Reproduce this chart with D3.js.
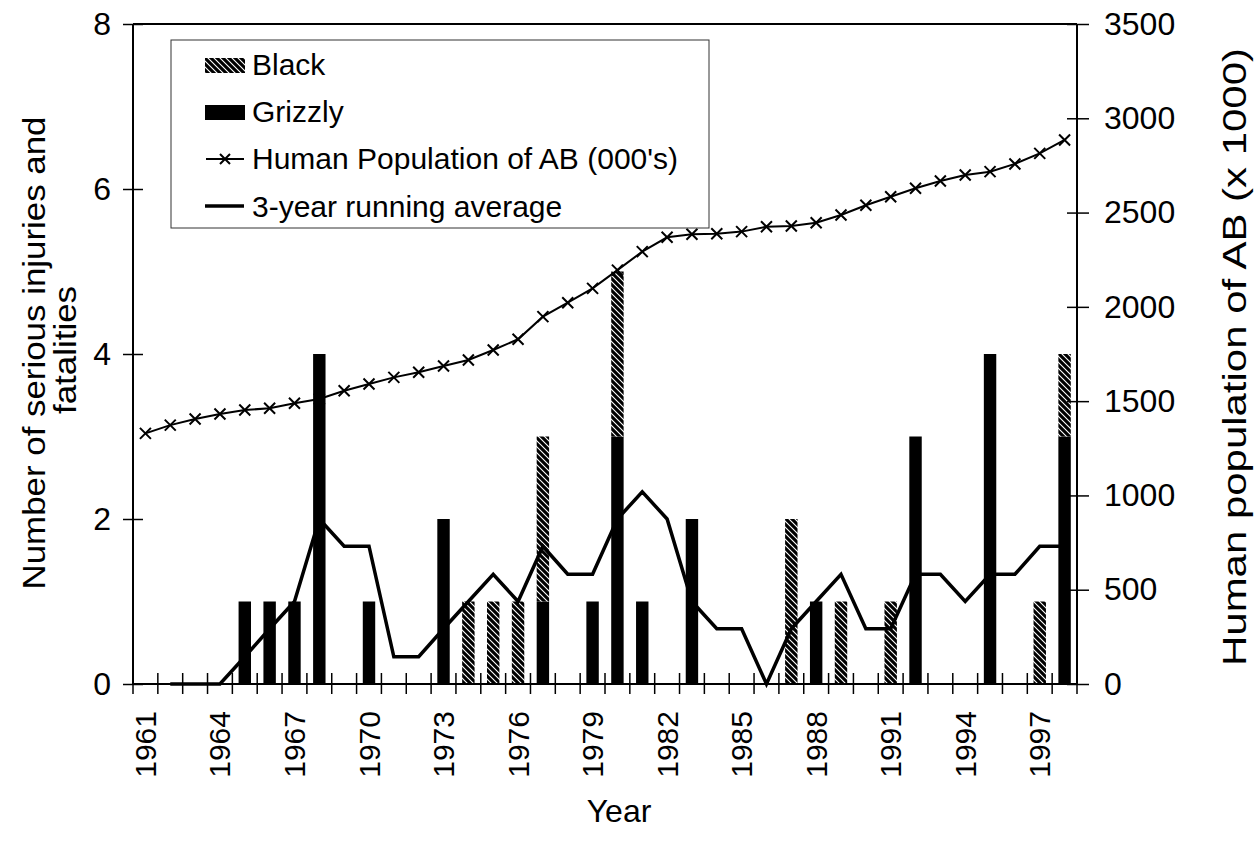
<!DOCTYPE html>
<html>
<head>
<meta charset="utf-8">
<script src="https://cdn.jsdelivr.net/npm/d3@7"></script>
<style>
  body { margin: 0; background: #fff; }
  svg { display: block; }
  text { font-family: "Liberation Sans", Arial, Helvetica, sans-serif; fill: #000; }
</style>
</head>
<body>
<script>
// years on the category axis
var years = [1961, 1962, 1963, 1964, 1965, 1966, 1967, 1968, 1969, 1970,
             1971, 1972, 1973, 1974, 1975, 1976, 1977, 1978, 1979, 1980,
             1981, 1982, 1983, 1984, 1985, 1986, 1987, 1988, 1989, 1990,
             1991, 1992, 1993, 1994, 1995, 1996, 1997, 1998];
var yearLabels = [1961, 1964, 1967, 1970, 1973, 1976, 1979, 1982, 1985, 1988, 1991, 1994, 1997];

// serious injuries and fatalities per year
var grizzly = [0, 0, 0, 0, 1, 1, 1, 4, 0, 1, 0, 0, 2, 0, 0, 0, 1, 0, 1, 3,
               1, 0, 2, 0, 0, 0, 0, 1, 0, 0, 0, 3, 0, 0, 4, 0, 0, 3];
var black   = [0, 0, 0, 0, 0, 0, 0, 0, 0, 0, 0, 0, 0, 1, 1, 1, 2, 0, 0, 2,
               0, 0, 0, 0, 0, 0, 2, 0, 1, 0, 1, 0, 0, 0, 0, 0, 1, 1];

// human population of Alberta (000's)
var population = [1329, 1373, 1405, 1432, 1453, 1462, 1489, 1511, 1555, 1591,
                  1626, 1653, 1686, 1718, 1771, 1828, 1948, 2022, 2098, 2195,
                  2293, 2369, 2385, 2388, 2399, 2425, 2429, 2446, 2487, 2539,
                  2584, 2629, 2667, 2699, 2717, 2758, 2814, 2885];

// 3-year running average (no value for 1961)
var runningAvg = [null, 0, 0, 0, 0.33, 0.67, 1, 2, 1.67, 1.67,
                  0.33, 0.33, 0.67, 1, 1.33, 1, 1.67, 1.33, 1.33, 2,
                  2.33, 2, 1, 0.67, 0.67, 0, 0.67, 1, 1.33, 0.67,
                  0.67, 1.33, 1.33, 1, 1.33, 1.33, 1.67, 1.67];

var leftTicks = [0, 2, 4, 6, 8];
var rightTicks = [0, 500, 1000, 1500, 2000, 2500, 3000, 3500];

var width = 1260, height = 853;
var plotL = 133, plotR = 1077, plotT = 24, plotB = 684;

var svg = d3.select("body").append("svg")
            .attr("width", width)
            .attr("height", height);

var defs = svg.append("defs");
var pat = defs.append("pattern")
              .attr("id", "hatch")
              .attr("patternUnits", "userSpaceOnUse")
              .attr("width", 6)
              .attr("height", 6);
pat.append("rect").attr("width", 6).attr("height", 6).attr("fill", "#000");
pat.append("path")
   .attr("d", "M0,0 L6,6 M-1,5 L1,7 M5,-1 L7,1")
   .attr("stroke", "#fff")
   .attr("stroke-width", 1.1);

var x = d3.scaleBand().domain(years).range([plotL, plotR]).padding(0);
var yL = d3.scaleLinear().domain([0, 8]).range([plotB, plotT]);
var yR = d3.scaleLinear().domain([0, 3500]).range([plotB, plotT]);
var cx = function(yr) { return x(yr) + x.bandwidth() / 2; };
var barW = x.bandwidth() * 0.5;

// stacked bars: grizzly at the bottom, black on top
var rows = years.map(function(yr, i) {
  return { year: yr, grizzly: grizzly[i], black: black[i] };
});
var stacked = d3.stack().keys(["grizzly", "black"])(rows);
var fills = { grizzly: "#000", black: "url(#hatch)" };

stacked.forEach(function(layer) {
  svg.append("g")
     .selectAll("rect")
     .data(layer.filter(function(d) { return d[1] > d[0]; }))
     .join("rect")
     .attr("x", function(d) { return cx(d.data.year) - barW / 2; })
     .attr("width", barW)
     .attr("y", function(d) { return yL(d[1]); })
     .attr("height", function(d) { return yL(d[0]) - yL(d[1]); })
     .attr("fill", fills[layer.key]);
});

// population line
var popLine = d3.line()
                .x(function(d, i) { return cx(years[i]); })
                .y(function(d) { return yR(d); });
svg.append("path")
   .datum(population)
   .attr("d", popLine)
   .attr("fill", "none")
   .attr("stroke", "#000")
   .attr("stroke-width", 2);

var cross = function(g, px, py, r) {
  g.append("path")
   .attr("d", "M" + (px - r) + "," + (py - r) + "L" + (px + r) + "," + (py + r) +
              "M" + (px - r) + "," + (py + r) + "L" + (px + r) + "," + (py - r))
   .attr("stroke", "#000")
   .attr("stroke-width", 2)
   .attr("fill", "none");
};
var marks = svg.append("g");
population.forEach(function(v, i) { cross(marks, cx(years[i]), yR(v), 5.5); });

// running average line
var avgLine = d3.line()
                .defined(function(d) { return d !== null; })
                .x(function(d, i) { return cx(years[i]); })
                .y(function(d) { return yL(d); });
svg.append("path")
   .datum(runningAvg)
   .attr("d", avgLine)
   .attr("fill", "none")
   .attr("stroke", "#000")
   .attr("stroke-width", 3.5)
   .attr("stroke-linejoin", "miter");

// frame: top border
svg.append("line")
   .attr("x1", plotL).attr("x2", plotR)
   .attr("y1", plotT).attr("y2", plotT)
   .attr("stroke", "#000").attr("stroke-width", 2);

// left axis
var gL = svg.append("g")
            .attr("transform", "translate(" + plotL + ",0)")
            .call(d3.axisLeft(yL).tickValues(leftTicks).tickSize(10).tickPadding(12));
gL.selectAll(".tick line").attr("x1", 10).attr("x2", -10);
gL.selectAll(".tick text").style("font-size", "32px");

// right axis
var gR = svg.append("g")
            .attr("transform", "translate(" + plotR + ",0)")
            .call(d3.axisRight(yR).tickValues(rightTicks).tickFormat(d3.format("d"))
                    .tickSize(10).tickPadding(17));
gR.selectAll(".tick line").attr("x1", -10).attr("x2", 12);
gR.selectAll(".tick text").style("font-size", "32px");

[gL, gR].forEach(function(g) {
  g.select(".domain").attr("stroke-width", 2).attr("d", "M0," + plotT + "V" + plotB);
  g.selectAll(".tick line").attr("stroke-width", 1.5);
});

// bottom axis: labels every third year at category centres
var gB = svg.append("g")
            .attr("transform", "translate(0," + plotB + ")")
            .call(d3.axisBottom(x).tickValues(yearLabels).tickSize(0));
gB.select(".domain").attr("stroke-width", 2).attr("d", "M" + plotL + ",0H" + plotR);
gB.selectAll(".tick text")
  .style("font-size", "30px")
  .attr("text-anchor", "end")
  .attr("transform", "rotate(-90)")
  .attr("x", -27)
  .attr("y", 0)
  .attr("dy", "0.35em");

// crossing ticks at category boundaries
var bounds = years.map(function(yr) { return x(yr); }).concat([plotR]);
svg.append("g")
   .selectAll("line")
   .data(bounds)
   .join("line")
   .attr("x1", function(d) { return d; })
   .attr("x2", function(d) { return d; })
   .attr("y1", plotB - 11)
   .attr("y2", plotB + 10)
   .attr("stroke", "#000")
   .attr("stroke-width", 1.5);

// axis titles
svg.append("text")
   .attr("transform", "translate(45,353) rotate(-90)")
   .attr("text-anchor", "middle")
   .attr("textLength", 473)
   .attr("lengthAdjust", "spacingAndGlyphs")
   .style("font-size", "32px")
   .text("Number of serious injuries and");
svg.append("text")
   .attr("transform", "translate(76,350) rotate(-90)")
   .attr("text-anchor", "middle")
   .attr("textLength", 128)
   .attr("lengthAdjust", "spacingAndGlyphs")
   .style("font-size", "32px")
   .text("fatalities");
svg.append("text")
   .attr("transform", "translate(1246,357) rotate(-90)")
   .attr("text-anchor", "middle")
   .attr("textLength", 618)
   .attr("lengthAdjust", "spacingAndGlyphs")
   .style("font-size", "33px")
   .text("Human population of AB (x 1000)");
svg.append("text")
   .attr("x", 619)
   .attr("y", 822)
   .attr("text-anchor", "middle")
   .style("font-size", "32px")
   .text("Year");

// legend
var leg = svg.append("g");
leg.append("rect")
   .attr("x", 171).attr("y", 40)
   .attr("width", 538).attr("height", 188)
   .attr("fill", "#fff")
   .attr("stroke", "#333")
   .attr("stroke-width", 1);

var legItems = ["Black", "Grizzly", "Human Population of AB (000's)", "3-year running average"];
var legBase = [75, 122, 169, 217];

leg.append("rect").attr("x", 205).attr("y", 58).attr("width", 40).attr("height", 15).attr("fill", "url(#hatch)");
leg.append("rect").attr("x", 205).attr("y", 105).attr("width", 40).attr("height", 15).attr("fill", "#000");
leg.append("line").attr("x1", 206).attr("x2", 244).attr("y1", 159).attr("y2", 159)
   .attr("stroke", "#000").attr("stroke-width", 2);
cross(leg, 225, 159, 5);
leg.append("line").attr("x1", 205).attr("x2", 244).attr("y1", 206).attr("y2", 206)
   .attr("stroke", "#000").attr("stroke-width", 3.5);

leg.selectAll("text.item")
   .data(legItems)
   .join("text")
   .attr("class", "item")
   .attr("x", 252)
   .attr("y", function(d, i) { return legBase[i]; })
   .style("font-size", "30px")
   .text(function(d) { return d; });
</script>
</body>
</html>
